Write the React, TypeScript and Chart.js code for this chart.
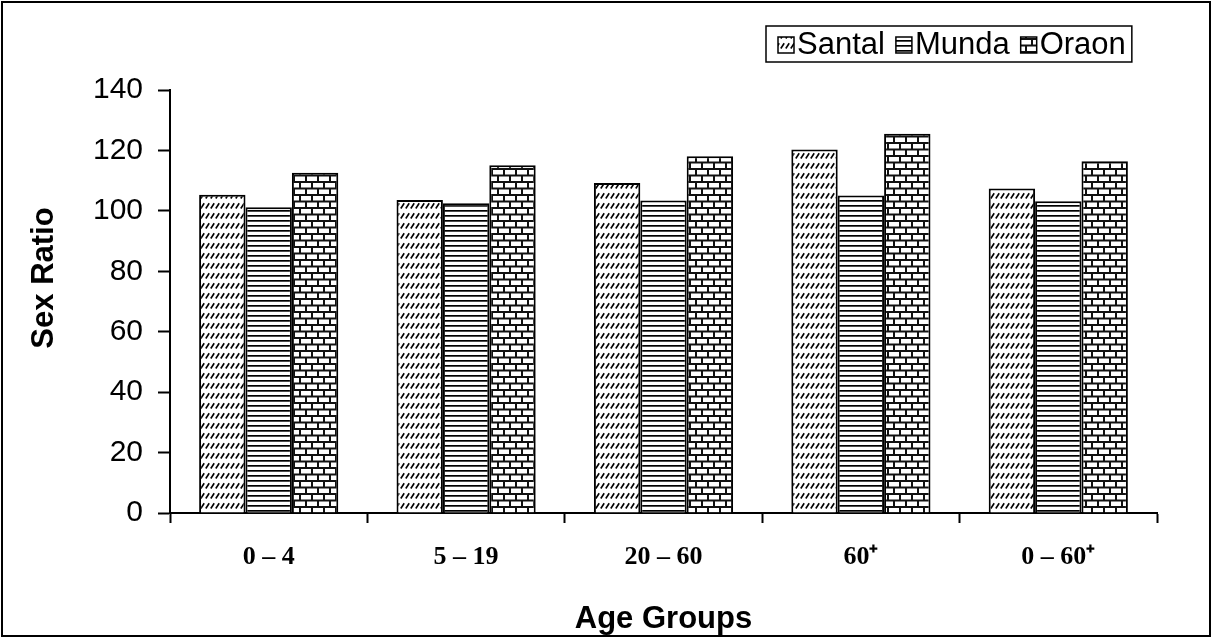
import React, { useEffect, useRef } from "react";
import { Chart, registerables } from "chart.js";

Chart.register(...registerables);

const ageGroups = ["0 – 4", "5 – 19", "20 – 60", "60⁺", "0 – 60⁺"];
const santal = [105.3, 103.6, 109.2, 120.3, 107.4];
const munda = [101.2, 102.5, 103.4, 105.1, 103.2];
const oraon = [112.6, 115.1, 118.1, 125.5, 116.4];
const tribes = ["Santal", "Munda", "Oraon"];
const yTicks = [0, 20, 40, 60, 80, 100, 120, 140];
const xTitle = "Age Groups";
const yTitle = "Sex Ratio";

const SANS = "'Liberation Sans', Arial, sans-serif";
const SERIF = "'Liberation Serif', 'Times New Roman', serif";

function makeTile(w: number, h: number, paint: (c: CanvasRenderingContext2D) => void) {
  const cv = document.createElement("canvas");
  cv.width = w;
  cv.height = h;
  const c = cv.getContext("2d")!;
  paint(c);
  return cv;
}

function hatchPattern(ctx: CanvasRenderingContext2D) {
  const tile = makeTile(5, 10, (c) => {
    c.fillStyle = "#fff";
    c.fillRect(0, 0, 5, 10);
    c.strokeStyle = "#000";
    c.lineWidth = 1.6;
    c.beginPath();
    c.moveTo(0.8, 8.5);
    c.lineTo(4.2, 3.2);
    c.stroke();
  });
  return ctx.createPattern(tile, "repeat")!;
}

function stripePattern(ctx: CanvasRenderingContext2D) {
  const tile = makeTile(6, 5, (c) => {
    c.fillStyle = "#fff";
    c.fillRect(0, 0, 6, 5);
    c.fillStyle = "#000";
    c.fillRect(0, 0, 6, 1.7);
  });
  return ctx.createPattern(tile, "repeat")!;
}

function brickPattern(ctx: CanvasRenderingContext2D) {
  const tile = makeTile(12, 13, (c) => {
    c.fillStyle = "#111";
    c.fillRect(0, 0, 12, 13);
    c.fillStyle = "#fff";
    c.fillRect(1, 1, 10, 4.5);
    c.fillRect(7, 7.5, 10, 4.5);
    c.fillRect(-5, 7.5, 10, 4.5);
  });
  return ctx.createPattern(tile, "repeat")!;
}

const framePlugin = {
  id: "frameLegendTitles",
  beforeDraw(chart: any) {
    const c = chart.ctx as CanvasRenderingContext2D;
    c.save();
    c.fillStyle = "#fff";
    c.fillRect(0, 0, chart.width, chart.height);
    c.restore();
  },
  afterDraw(chart: any) {
    const c = chart.ctx as CanvasRenderingContext2D;
    const area = chart.chartArea;
    c.save();
    c.strokeStyle = "#000";
    c.lineWidth = 2;
    c.strokeRect(2, 2, 1208, 634);

    // axis titles
    c.fillStyle = "#000";
    c.font = `bold 31px ${SANS}`;
    c.textAlign = "center";
    c.textBaseline = "alphabetic";
    c.fillText(xTitle, (area.left + area.right) / 2, 628);
    c.save();
    c.translate(53, 278);
    c.rotate(-Math.PI / 2);
    c.fillText(yTitle, 0, 0);
    c.restore();

    // legend: patterned swatches with series names, in a framed box
    c.textAlign = "left";
    c.font = `31px ${SANS}`;
    c.textBaseline = "middle";
    const boxLeft = 766;
    const boxTop = 26;
    const boxH = 36;
    const cy = boxTop + boxH / 2 + 1;
    let x = boxLeft + 12;
    chart.data.datasets.forEach((ds: any, i: number) => {
      c.fillStyle = ds.backgroundColor;
      c.fillRect(x, cy - 8, 16, 16);
      c.lineWidth = 1.5;
      c.strokeStyle = "#000";
      c.strokeRect(x, cy - 8, 16, 16);
      c.fillStyle = "#000";
      c.fillText(ds.label, x + 19, cy);
      x += 19 + c.measureText(ds.label).width + (i < 2 ? 11 : 6);
    });
    c.lineWidth = 1.5;
    c.strokeRect(boxLeft, boxTop, x - boxLeft, boxH);
    c.restore();
  },
};

export default function App() {
  const ref = useRef<HTMLCanvasElement>(null);

  useEffect(() => {
    document.body.style.margin = "0";
    const canvas = ref.current!;
    const ctx = canvas.getContext("2d")!;
    const fills = [hatchPattern(ctx), stripePattern(ctx), brickPattern(ctx)];
    const series = [santal, munda, oraon];

    const chart = new Chart(ctx, {
      type: "bar",
      data: {
        labels: ageGroups,
        datasets: tribes.map((name, i) => ({
          label: name,
          data: series[i],
          backgroundColor: fills[i] as any,
          borderColor: "#000",
          borderWidth: 2,
          categoryPercentage: 0.705,
          barPercentage: 1,
        })),
      },
      options: {
        responsive: false,
        animation: false,
        devicePixelRatio: 1,
        layout: { padding: { top: 90, right: 58, left: 0, bottom: 0 } },
        plugins: { legend: { display: false }, tooltip: { enabled: false } },
        scales: {
          x: {
            afterFit: (s: any) => {
              s.height = 131;
            },
            grid: {
              offset: true,
              drawOnChartArea: false,
              drawTicks: true,
              tickLength: 10,
              tickWidth: 2,
              tickColor: "#000",
            },
            border: { display: true, color: "#000", width: 2 },
            ticks: {
              color: "#000",
              padding: 19,
              font: { family: SERIF, size: 26, weight: "bold" },
            },
          },
          y: {
            min: 0,
            max: 140,
            afterFit: (s: any) => {
              s.width = 170;
            },
            afterBuildTicks: (s: any) => {
              s.ticks = yTicks.map((v) => ({ value: v }));
            },
            grid: {
              drawOnChartArea: false,
              drawTicks: true,
              tickLength: 12,
              tickWidth: 2,
              tickColor: "#000",
            },
            border: { display: true, color: "#000", width: 2 },
            ticks: {
              color: "#000",
              padding: 15,
              font: { family: SANS, size: 30 },
            },
          },
        },
      },
      plugins: [framePlugin],
    });
    return () => chart.destroy();
  }, []);

  return <canvas ref={ref} width={1215} height={644} style={{ display: "block" }} />;
}
